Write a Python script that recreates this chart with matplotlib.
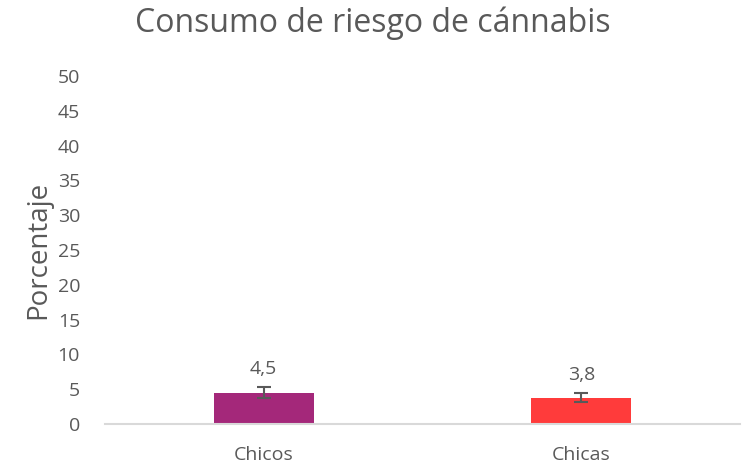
import numpy as np
import matplotlib
matplotlib.use("Agg")
import matplotlib.pyplot as plt

categories = ["Chicos", "Chicas"]
values = [4.5, 3.8]
errors = [0.75, 0.6]
labels = ["4,5", "3,8"]
colors = ["#A4287A", "#FF3B3B"]
yticks = [0, 5, 10, 15, 20, 25, 30, 35, 40, 45, 50]

plt.rcParams["font.family"] = ["Open Sans", "DejaVu Sans"]
text_color = "#595959"

fig = plt.figure(figsize=(7.46, 4.66), dpi=100)
ax = fig.add_axes([105 / 746, 42 / 466, 635 / 746, 348 / 466])

x = np.arange(len(categories))
ax.bar(x, values, width=0.315, color=colors, zorder=2)
ax.errorbar(x, values, yerr=errors, fmt="none", ecolor="#595959",
            elinewidth=1.5, capsize=5, capthick=1.5, zorder=3)

for xi, v, e, lab in zip(x, values, errors, labels):
    ax.text(xi, v + e + 1.3, lab, ha="center", va="bottom",
            fontsize=14, color=text_color)

ax.set_xlim(-0.5, 1.5)
ax.set_ylim(0, 50)
ax.set_yticks(yticks)
ax.set_yticklabels([str(t) for t in yticks])
ax.set_xticks(x)
ax.set_xticklabels(categories)
ax.tick_params(axis="both", length=0, labelsize=14, labelcolor=text_color)
ax.tick_params(axis="y", pad=18)
ax.tick_params(axis="x", pad=16)

for side in ["top", "right", "left"]:
    ax.spines[side].set_visible(False)
ax.spines["bottom"].set_color("#D9D9D9")
ax.spines["bottom"].set_linewidth(1.5)

ax.set_ylabel("Porcentaje", fontsize=20, color=text_color, labelpad=4)
fig.suptitle("Consumo de riesgo de cánnabis", fontsize=23, color=text_color,
             x=373 / 746, y=0.985, va="top")

fig.savefig("out.png", dpi=100)
